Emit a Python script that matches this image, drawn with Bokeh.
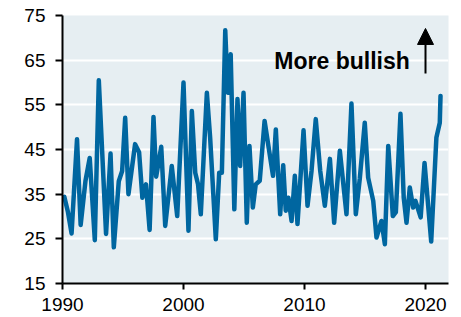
from bokeh.plotting import figure
from bokeh.models import FixedTicker, Arrow, NormalHead, Range1d, Label
from bokeh.embed import file_html
from bokeh.resources import INLINE

years = [1990.15, 1990.45, 1990.75, 1991.2, 1991.5, 1991.9, 1992.25, 1992.67, 1993.0, 1993.6,
         1993.97, 1994.24, 1994.65, 1994.93, 1995.18, 1995.45, 1996.0, 1996.33, 1996.6, 1996.9,
         1997.2, 1997.52, 1997.74, 1998.16, 1998.49, 1999.03, 1999.48, 2000.0, 2000.41, 2000.69,
         2000.97, 2001.2, 2001.43, 2001.93, 2002.2, 2002.48, 2002.67, 2002.95, 2003.17, 2003.45,
         2003.66, 2003.9, 2004.2, 2004.46, 2004.68, 2004.96, 2005.23, 2005.45, 2005.73, 2005.97,
         2006.3, 2006.7, 2007.08, 2007.4, 2007.63, 2007.99, 2008.24, 2008.45, 2008.67, 2008.93,
         2009.2, 2009.42, 2009.92, 2010.25, 2010.58, 2010.93, 2011.3, 2011.68, 2012.1, 2012.45,
         2012.92, 2013.47, 2013.88, 2014.24, 2014.57, 2014.98, 2015.26, 2015.68, 2015.95, 2016.36,
         2016.64, 2016.92, 2017.3, 2017.55, 2017.93, 2018.2, 2018.43, 2018.7, 2018.98, 2019.17,
         2019.6, 2019.92, 2020.47, 2020.9, 2021.18, 2021.24]
values = [34.4, 31.0, 26.2, 47.3, 28.1, 38.0, 43.1, 24.7, 60.5, 26.1,
          44.1, 23.1, 37.9, 40.2, 52.1, 35.0, 46.2, 44.4, 34.2, 37.2,
          27.0, 52.3, 38.9, 45.6, 27.9, 41.3, 30.1, 60.0, 26.8, 53.6,
          39.8, 37.2, 30.5, 57.7, 47.7, 34.2, 24.9, 39.8, 39.8, 71.7,
          57.7, 66.3, 31.6, 56.3, 41.3, 57.7, 28.6, 45.8, 32.0, 37.2,
          38.0, 51.4, 44.7, 39.1, 49.5, 30.5, 41.5, 31.3, 34.2, 29.0,
          39.1, 28.3, 49.3, 32.4, 40.2, 51.8, 40.2, 32.4, 42.9, 28.6,
          44.7, 30.5, 55.3, 30.5, 38.5, 51.0, 38.7, 33.5, 25.3, 29.0,
          23.8, 45.8, 30.1, 31.0, 53.0, 34.2, 28.6, 36.5, 32.0, 33.5,
          29.8, 42.0, 24.4, 47.7, 51.0, 57.0]

y_ticks = [15, 25, 35, 45, 55, 65, 75]
x_ticks = [1990, 2000, 2010, 2020]
annotation_text = "More bullish"

p = figure(width=461, height=317, output_backend="svg", toolbar_location=None,
           x_range=Range1d(1990, 2021.9), y_range=Range1d(15, 75),
           min_border_left=62, min_border_right=13, min_border_top=15, min_border_bottom=34)
p.outline_line_color = None
p.background_fill_color = "#e6eef2"
p.border_fill_color = "white"

p.xgrid.grid_line_color = None
p.ygrid.grid_line_color = "white"
p.ygrid.grid_line_width = 2
p.ygrid.ticker = FixedTicker(ticks=y_ticks)

p.yaxis.ticker = FixedTicker(ticks=y_ticks)
p.xaxis.ticker = FixedTicker(ticks=x_ticks)
for ax in (p.xaxis, p.yaxis):
    ax.axis_line_color = "black"
    ax.axis_line_width = 2
    ax.major_tick_line_color = "black"
    ax.major_tick_line_width = 2
    ax.major_tick_in = 0
    ax.minor_tick_line_color = None
    ax.major_label_text_font = "Liberation Sans"
    ax.major_label_text_font_size = "19px"
    ax.major_label_text_color = "black"
p.yaxis.major_tick_out = 7
p.xaxis.major_tick_out = 6
p.yaxis.major_label_standoff = 10
p.xaxis.major_label_standoff = 8

p.line(years, values, line_color="#0066a0", line_width=4.5, line_join="round", line_cap="round")

p.add_layout(Label(x=2018.7, y=64.8, text=annotation_text, text_align="right",
                   text_baseline="alphabetic", text_font="Liberation Sans",
                   text_font_style="bold", text_font_size="23px", text_color="black"))
p.add_layout(Arrow(x_start=2020, y_start=62.0, x_end=2020, y_end=72.1, line_width=2,
                   line_color="black",
                   end=NormalHead(size=16, fill_color="black", line_color="black")))

open("out.html", "w").write(file_html(p, INLINE))
